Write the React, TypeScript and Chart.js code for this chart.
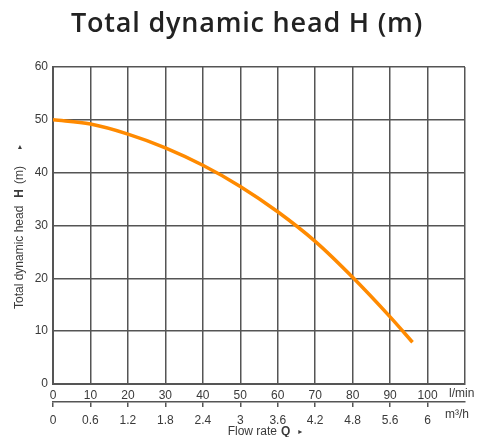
import React, { useEffect, useRef } from "react";
import { Chart, registerables } from "chart.js";

Chart.register(...registerables);

// Data
const flowLpm = [0, 10, 20, 30, 40, 50, 60, 70, 80, 90, 96];
const headM = [50, 49.2, 47.3, 44.7, 41.4, 37.4, 32.6, 27.0, 20.2, 12.7, 7.9];
const lpmTicks = [0, 10, 20, 30, 40, 50, 60, 70, 80, 90, 100];
const m3hTicks = ["0", "0.6", "1.2", "1.8", "2.4", "3", "3.6", "4.2", "4.8", "5.6", "6"];
const headTicks = [0, 10, 20, 30, 40, 50, 60];

const chartTitle = "Total dynamic head H (m)";
const FONT = "'Liberation Sans', Arial, sans-serif";
const GRID = "#555555";
const TEXT = "#3a3a3a";

type Part = { t: string; f: string; gap?: number };

function drawParts(ctx: CanvasRenderingContext2D, parts: Part[], x: number, y: number) {
  let total = 0;
  const widths = parts.map((p) => {
    ctx.font = p.f;
    const w = ctx.measureText(p.t).width + (p.gap || 0);
    total += w;
    return w;
  });
  let cx = x - total / 2;
  parts.forEach((p, i) => {
    ctx.font = p.f;
    ctx.fillText(p.t, cx + (p.gap || 0), y);
    cx += widths[i];
  });
}

const decorPlugin = {
  id: "decor",
  afterDraw(chart: any) {
    const ctx: CanvasRenderingContext2D = chart.ctx;
    ctx.save();
    // Main title
    ctx.fillStyle = "#222222";
    ctx.textAlign = "center";
    ctx.textBaseline = "alphabetic";
    ctx.font = "600 27px 'Open Sans', sans-serif";
    (ctx as any).letterSpacing = "0.8px";
    ctx.fillText(chartTitle, 247, 32);
    (ctx as any).letterSpacing = "0px";

    ctx.fillStyle = TEXT;
    ctx.textAlign = "left";
    ctx.textBaseline = "middle";
    // Units
    ctx.font = `12px ${FONT}`;
    ctx.fillText("l/min", 449, 394);
    ctx.fillText("m³/h", 445, 415);

    // X axis title
    drawParts(
      ctx,
      [
        { t: "Flow rate", f: `12px ${FONT}` },
        { t: "Q", f: `bold 12px ${FONT}`, gap: 4 },
        { t: "▸", f: `8px 'DejaVu Sans', sans-serif`, gap: 8 },
      ],
      265,
      432
    );

    // Y axis title (rotated)
    ctx.translate(20, 227);
    ctx.rotate(-Math.PI / 2);
    drawParts(
      ctx,
      [
        { t: "Total dynamic head", f: `12px ${FONT}` },
        { t: "H", f: `bold 12px ${FONT}`, gap: 8 },
        { t: "(m)", f: `12px ${FONT}`, gap: 5 },
        { t: "▸", f: `8px 'DejaVu Sans', sans-serif`, gap: 17 },
      ],
      0,
      0
    );
    ctx.restore();
  },
};

export default function App() {
  const ref = useRef<HTMLCanvasElement | null>(null);

  useEffect(() => {
    if (!ref.current) return;
    const chart = new Chart(ref.current, {
      type: "line",
      data: {
        datasets: [
          {
            data: flowLpm.map((x, i) => ({ x, y: headM[i] })),
            borderColor: "#FF8A00",
            borderWidth: 3.5,
            pointRadius: 0,
            tension: 0.4,
            cubicInterpolationMode: "monotone",
            fill: false,
            xAxisID: "x",
            yAxisID: "y",
          },
        ],
      },
      options: {
        responsive: false,
        animation: false,
        layout: { padding: { left: 0, right: 16, top: 67, bottom: 0 } },
        plugins: {
          legend: { display: false },
          title: { display: false },
          tooltip: { enabled: false },
        },
        scales: {
          x: {
            type: "linear",
            position: "bottom",
            weight: 0,
            min: 0,
            max: 110,
            afterFit: (s: any) => {
              s.height = 18;
            },
            afterBuildTicks: (s: any) => {
              s.ticks = [...lpmTicks, 110].map((v) => ({ value: v }));
            },
            ticks: {
              color: TEXT,
              font: { family: FONT, size: 12 },
              padding: 4,
              maxRotation: 0,
              autoSkip: false,
              callback: (v: any) => (lpmTicks.includes(v) ? String(v) : ""),
            },
            grid: { color: GRID, lineWidth: 1.5, drawTicks: false },
            border: { display: true, color: GRID, width: 2 },
          },
          x2: {
            type: "linear",
            position: "bottom",
            weight: 1,
            min: 0,
            max: 110,
            afterFit: (s: any) => {
              s.height = 35;
            },
            afterBuildTicks: (s: any) => {
              s.ticks = lpmTicks.map((v) => ({ value: v }));
            },
            ticks: {
              color: TEXT,
              font: { family: FONT, size: 12 },
              padding: 6,
              maxRotation: 0,
              autoSkip: false,
              callback: (_v: any, i: number) => m3hTicks[i],
            },
            grid: {
              drawOnChartArea: false,
              drawTicks: true,
              tickLength: 5,
              color: GRID,
              lineWidth: 1.5,
            },
            border: { display: true, color: GRID, width: 1.5 },
          },
          y: {
            type: "linear",
            position: "left",
            min: 0,
            max: 60,
            afterFit: (s: any) => {
              s.width = 53;
            },
            afterBuildTicks: (s: any) => {
              s.ticks = headTicks.map((v) => ({ value: v }));
            },
            ticks: {
              color: TEXT,
              font: { family: FONT, size: 12 },
              padding: 5,
            },
            grid: { color: GRID, lineWidth: 1.5, drawTicks: false },
            border: { display: true, color: GRID, width: 2 },
          },
        },
      } as any,
      plugins: [decorPlugin],
    });
    return () => chart.destroy();
  }, []);

  return (
    <div style={{ position: "absolute", left: 0, top: 0, width: 481, height: 437, background: "#fff" }}>
      <canvas ref={ref} width={481} height={437} style={{ display: "block" }} />
    </div>
  );
}
